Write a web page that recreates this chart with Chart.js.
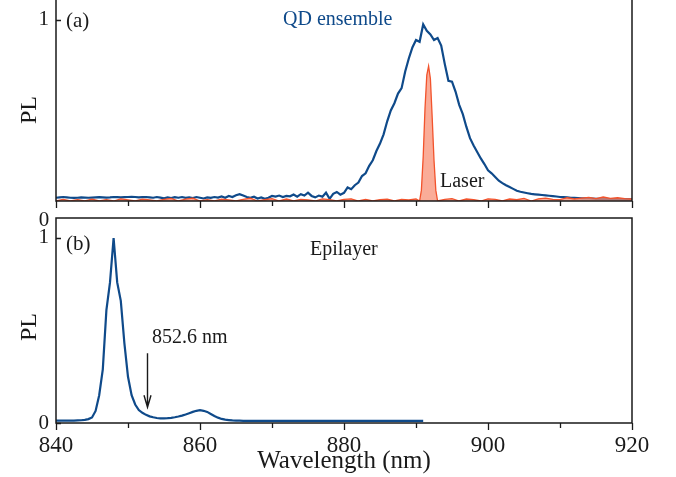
<!DOCTYPE html>
<html>
<head>
<meta charset="utf-8">
<script src="https://cdn.jsdelivr.net/npm/chart.js@4.4.0/dist/chart.umd.min.js"></script>
<style>
  body { margin: 0; background: #fff; width: 676px; height: 477px; overflow: hidden; position: relative; }
  canvas { position: absolute; left: 0; }
  #topChart { top: 0; }
  #botChart { top: 205px; }
</style>
</head>
<body>
<canvas id="topChart" width="676" height="210"></canvas>
<canvas id="botChart" width="676" height="272"></canvas>
<script>
// eje x comun
const xMinorTicks = [840, 850, 860, 870, 880, 890, 900, 910, 920];
const xLabelTicks = [840, 860, 880, 900, 920];

// (a) QD ensemble, 840 -> 920 nm cada 0.5 nm
const qdStart = 840, qdStep = 0.5;
const qdPL = [
  .018, .020, .022, .020, .018, .017, .018, .020, .019, .018,
  .019, .020, .021, .020, .019, .020, .022, .021, .020, .021,
  .022, .023, .022, .020, .021, .022, .020, .018, .022, .019,
  .015, .020, .016, .021, .018, .022, .017, .020, .016, .022,
  .018, .014, .020, .017, .022, .019, .025, .018, .028, .022,
  .032, .038, .030, .022, .018, .024, .014, .020, .012, .018,
  .028, .024, .030, .022, .028, .026, .036, .024, .038, .030,
  .046, .028, .020, .030, .024, .046, .012, .040, .050, .035,
  .045, .075, .065, .087, .102, .138, .153, .194, .225, .276,
  .317, .368, .440, .500, .540, .593, .623, .715, .787, .848,
  .889, .879, .975, .940, .920, .889, .900, .858, .756, .664,
  .659, .603, .531, .480, .409, .347, .307, .271, .235, .204,
  .169, .153, .133, .112, .099, .087, .077, .067, .057, .051,
  .047, .043, .039, .037, .035, .033, .031, .029, .027, .025,
  .022, .021, .020, .018, .017, .016, .015, .014, .014, .013,
  .012, .012, .011, .011, .010, .010, .010, .009, .009, .009,
  .009
];

// (a) laser
const laserWl = [
  840, 841, 842, 843, 844, 845, 846, 847, 848, 849, 850, 851, 852, 853, 854, 855,
  856, 857, 858, 859, 860, 861, 862, 863, 864, 865, 866, 867, 868, 869, 870, 871,
  872, 873, 874, 875, 876, 877, 878, 879, 880, 881, 882, 883, 884, 885, 886, 887,
  888, 889, 890, 890.5, 890.75, 891, 891.25, 891.5, 891.75, 892, 892.25, 892.5, 892.75, 893,
  894, 895, 896, 897, 898, 899, 900, 901, 902, 903, 904, 905, 906, 907, 908, 909,
  910, 911, 912, 913, 914, 915, 916, 917, 918, 919, 920
];
const laserPL = [
  0, .009, 0, .008, 0, .010, 0, .008, 0, .012, .006, 0, .010, .006, 0, .009,
  .014, 0, .010, .016, 0, .008, 0, .010, .006, 0, .009, .016, 0, .007, .013, 0,
  .011, 0, .009, .006, 0, .012, .008, 0, .009, .012, 0, .009, 0, .008, .010, 0,
  .009, .006, .011, 0, .06, .245, .51, .695, .745, .675, .46, .225, .06, 0,
  .009, .013, 0, .011, .008, 0, .012, .009, 0, .011, .007, .014, 0, .012, .016, .009,
  .008, .018, .011, .016, .020, .013, .022, .015, .018, .013, .011
];

// (b) Epilayer, 840 -> 891 nm cada 0.5 nm
const epiStart = 840, epiStep = 0.5;
const epiPL = [
  .013, .013, .013, .013, .013, .013, .014, .015, .017, .021,
  .030, .065, .150, .290, .610, .760, 1.00, .760, .660, .430,
  .250, .150, .100, .070, .055, .044, .036, .031, .027, .025,
  .025, .026, .028, .031, .035, .040, .046, .053, .060, .066,
  .069, .066, .060, .049, .038, .029, .022, .018, .016, .014,
  .013, .013, .012, .012, .012, .012, .012, .012, .012, .012,
  .012, .012, .012, .012, .012, .012, .012, .012, .012, .012,
  .012, .012, .012, .012, .012, .011, .011, .011, .011, .011,
  .011, .011, .011, .011, .011, .011, .011, .011, .011, .011,
  .011, .011, .011, .011, .011, .011, .011, .011, .011, .011,
  .011, .011, .011
];

const serif = "'Liberation Serif', 'DejaVu Serif', serif";
const azul = "#0f4a8a";
const rojo = "#f2532c";
const salmon = "rgba(248, 140, 112, 0.72)";
const negro = "#1a1a1a";

// marco del panel y marcas de los ejes (sin borde superior en (a))
function marco(conTop, yValores) {
  return {
    id: "marco",
    afterDatasetsDraw(chart) {
      const { ctx, chartArea: a } = chart;
      const xs = chart.scales.x, ys = chart.scales.y;
      ctx.save();
      ctx.strokeStyle = negro;
      ctx.lineWidth = 1.5;
      ctx.beginPath();
      if (conTop) {
        ctx.rect(a.left, a.top, a.right - a.left, a.bottom - a.top);
      } else {
        ctx.moveTo(a.left, a.top);
        ctx.lineTo(a.left, a.bottom);
        ctx.lineTo(a.right, a.bottom);
        ctx.lineTo(a.right, a.top);
      }
      ctx.stroke();

      ctx.lineWidth = 1.3;
      ctx.beginPath();
      xMinorTicks.forEach((v) => {
        const px = Math.round(xs.getPixelForValue(v)) + 0.5;
        const largo = xLabelTicks.includes(v) ? 7 : 5;
        ctx.moveTo(px, a.bottom);
        ctx.lineTo(px, a.bottom + largo);
      });
      yValores.forEach((v) => {
        const py = Math.round(ys.getPixelForValue(v)) + 0.5;
        ctx.moveTo(a.left, py);
        ctx.lineTo(a.left + 5, py);
      });
      ctx.stroke();
      ctx.restore();
    },
  };
}

function texto(ctx, t, x, y, size, color, align) {
  ctx.font = size + "px " + serif;
  ctx.fillStyle = color || negro;
  ctx.textAlign = align || "left";
  ctx.textBaseline = "middle";
  ctx.fillText(t, x, y);
}

function textoVertical(ctx, t, x, y, size) {
  ctx.save();
  ctx.translate(x, y);
  ctx.rotate(-Math.PI / 2);
  texto(ctx, t, 0, 0, size, negro, "center");
  ctx.restore();
}

const notasTop = {
  id: "notasTop",
  afterDraw(chart) {
    const ctx = chart.ctx;
    ctx.save();
    texto(ctx, "(a)", 66, 21, 21);
    texto(ctx, "QD ensemble", 283, 20, 20, azul);
    texto(ctx, "Laser", 440, 182, 20);
    textoVertical(ctx, "PL", 30, 110, 24);
    ctx.restore();
  },
};

const notasBot = {
  id: "notasBot",
  afterDraw(chart) {
    const ctx = chart.ctx;
    const xs = chart.scales.x, ys = chart.scales.y;
    ctx.save();
    texto(ctx, "0", 44, 15, 21, negro, "center");
    texto(ctx, "(b)", 66, 39, 21);
    texto(ctx, "Epilayer", 310, 45, 20);
    texto(ctx, "852.6 nm", 152, 133, 20);
    textoVertical(ctx, "PL", 30, 122, 24);
    // flecha en 852.6 nm
    const ax = Math.round(xs.getPixelForValue(852.6)) + 0.5;
    const y0 = ys.getPixelForValue(0.377);
    const y1 = ys.getPixelForValue(0.085);
    ctx.strokeStyle = negro;
    ctx.lineWidth = 1.4;
    ctx.beginPath();
    ctx.moveTo(ax, y0);
    ctx.lineTo(ax, y1);
    ctx.moveTo(ax - 3.5, y1 - 12);
    ctx.lineTo(ax, y1);
    ctx.lineTo(ax + 3.5, y1 - 12);
    ctx.stroke();
    ctx.restore();
  },
};

function ejeX(conEtiquetas) {
  return {
    type: "linear",
    min: 840,
    max: 920,
    afterBuildTicks: (s) => { s.ticks = xMinorTicks.map((v) => ({ value: v })); },
    ticks: {
      autoSkip: false,
      maxRotation: 0,
      padding: 9,
      color: negro,
      font: { family: serif, size: 23 },
      callback: (v) => (conEtiquetas && xLabelTicks.includes(v) ? String(v) : ""),
    },
    grid: { display: false, drawTicks: false, tickLength: 0 },
    border: { display: false },
    title: conEtiquetas
      ? { display: true, text: "Wavelength (nm)", color: negro, font: { family: serif, size: 25 }, padding: { top: 0, bottom: 1 } }
      : { display: false },
    afterFit: (s) => { s.height = conEtiquetas ? 54 : 9; s.paddingLeft = 0; s.paddingRight = 0; },
  };
}

function ejeY(min, max, valores) {
  return {
    min: min,
    max: max,
    afterBuildTicks: (s) => { s.ticks = valores.map((v) => ({ value: v })); },
    ticks: { padding: 7, color: negro, font: { family: serif, size: 21 }, callback: (v) => String(v) },
    grid: { display: false, drawTicks: false, tickLength: 0 },
    border: { display: false },
    afterFit: (s) => { s.width = 56; s.paddingTop = 0; s.paddingBottom = 0; },
  };
}

// Panel (a)
new Chart(document.getElementById("topChart"), {
  type: "line",
  data: {
    datasets: [
      {
        label: "Laser",
        data: laserWl.map((w, i) => ({ x: w, y: laserPL[i] })),
        borderColor: rojo,
        backgroundColor: salmon,
        borderWidth: 1.3,
        pointRadius: 0,
        fill: "origin",
        tension: 0,
      },
      {
        label: "QD ensemble",
        data: qdPL.map((v, i) => ({ x: qdStart + i * qdStep, y: v })),
        borderColor: azul,
        borderWidth: 2.2,
        pointRadius: 0,
        fill: false,
        tension: 0,
      },
    ],
  },
  options: {
    responsive: false,
    animation: false,
    layout: { padding: { left: 0, right: 44, top: 0, bottom: 0 } },
    plugins: { legend: { display: false }, tooltip: { enabled: false } },
    scales: { x: ejeX(false), y: ejeY(0, 1.11, [1]) },
  },
  plugins: [marco(false, [1]), notasTop],
});

// Panel (b)
new Chart(document.getElementById("botChart"), {
  type: "line",
  data: {
    datasets: [
      {
        label: "Epilayer",
        data: epiPL.map((v, i) => ({ x: epiStart + i * epiStep, y: v })),
        borderColor: azul,
        borderWidth: 2.2,
        pointRadius: 0,
        fill: false,
        tension: 0,
      },
    ],
  },
  options: {
    responsive: false,
    animation: false,
    layout: { padding: { left: 0, right: 44, top: 13, bottom: 0 } },
    plugins: { legend: { display: false }, tooltip: { enabled: false } },
    scales: { x: ejeX(true), y: ejeY(0, 1.108, [0, 1]) },
  },
  plugins: [marco(true, [0, 1]), notasBot],
});
</script>
</body>
</html>
